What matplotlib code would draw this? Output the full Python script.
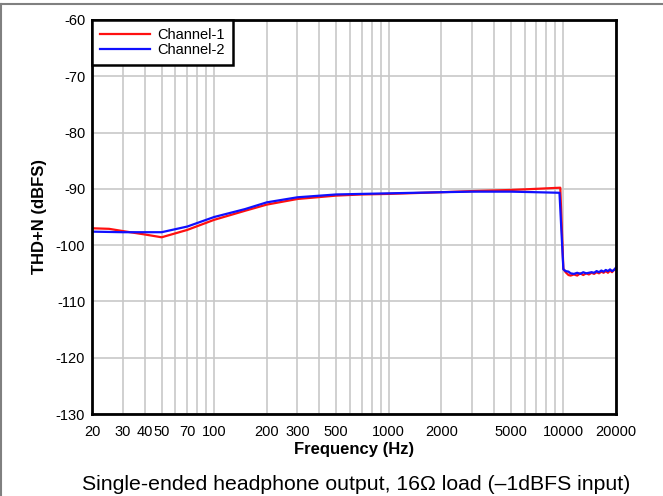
import matplotlib.pyplot as plt
from matplotlib.lines import Line2D
from matplotlib.ticker import FixedLocator, NullFormatter

plt.rcParams['font.family'] = ['Liberation Sans', 'DejaVu Sans']
plt.rcParams['axes.unicode_minus'] = False

# Channel-1 (red)
freq_ch1 = [20, 25, 30, 40, 50, 70, 100, 150, 200, 300, 500, 700, 1000, 2000, 3000, 5000, 7000, 9600,
            10000, 10300, 10700, 11000, 11500, 12000, 12500, 13000, 13500, 14000, 14500, 15000, 15500,
            16000, 16500, 17000, 17500, 18000, 18500, 19000, 19500, 20000]
thd_ch1 = [-97.0, -97.1, -97.5, -98.1, -98.6, -97.3, -95.5, -93.9, -92.8, -91.8, -91.2, -91.0, -90.9, -90.6, -90.4,
           -90.2, -90.0, -89.8,
           -104.2, -104.8, -105.3, -105.4, -105.2, -105.4, -105.0, -105.3, -105.0, -105.2, -104.9, -105.1, -104.8,
           -105.0, -104.7, -104.9, -104.6, -104.9, -104.5, -104.8, -104.4, -104.1]

# Channel-2 (blue)
freq_ch2 = [20, 30, 40, 50, 70, 100, 150, 200, 300, 500, 700, 1000, 2000, 3000, 5000, 7000, 9500,
            10000, 10300, 10700, 11000, 11500, 12000, 12500, 13000, 13500, 14000, 14500, 15000, 15500,
            16000, 16500, 17000, 17500, 18000, 18500, 19000, 19500, 20000]
thd_ch2 = [-97.6, -97.7, -97.7, -97.7, -96.7, -95.0, -93.6, -92.4, -91.5, -91.0, -90.9, -90.8, -90.6, -90.5,
           -90.5, -90.6, -90.7,
           -104.3, -104.6, -104.7, -105.0, -105.1, -104.9, -105.1, -104.8, -105.0, -104.9, -104.8, -104.9, -104.6,
           -104.8, -104.5, -104.7, -104.4, -104.6, -104.3, -104.6, -104.4, -104.0]

x_ticks = [20, 30, 40, 50, 70, 100, 200, 300, 500, 1000, 2000, 5000, 10000, 20000]
y_ticks = [-130, -120, -110, -100, -90, -80, -70, -60]

fig = plt.figure(figsize=(6.63, 4.96), dpi=100)
ax = fig.add_axes([0.139, 0.165, 0.790, 0.795])

ax.plot(freq_ch1, thd_ch1, color='#ff1010', lw=1.6, label='Channel-1', zorder=3)
ax.plot(freq_ch2, thd_ch2, color='#1010ff', lw=1.6, label='Channel-2', zorder=4)

ax.set_xscale('log')
ax.set_xlim(20, 20000)
ax.set_ylim(-130, -60)
ax.set_xticks(x_ticks)
ax.set_xticklabels([str(t) for t in x_ticks])
minor = [m * 10 ** e for e in range(1, 5) for m in range(1, 10) if 20 <= m * 10 ** e <= 20000]
ax.xaxis.set_minor_locator(FixedLocator(minor))
ax.xaxis.set_minor_formatter(NullFormatter())
ax.set_yticks(y_ticks)
ax.grid(True, which='both', color='#c8c8c8', lw=1.2, zorder=0)
ax.tick_params(which='both', length=0, labelsize=10.5)
ax.tick_params(axis='x', pad=8)
ax.tick_params(axis='y', pad=5)
for spine in ax.spines.values():
    spine.set_linewidth(2)
    spine.set_zorder(5)

ax.set_xlabel('Frequency (Hz)', fontsize=12, fontweight='bold', labelpad=2)
ax.set_ylabel('THD+N (dBFS)', fontsize=12, fontweight='bold', labelpad=6)

leg = ax.legend(loc='upper left', fontsize=10.5, fancybox=False, framealpha=1, edgecolor='black',
                borderaxespad=0, handlelength=3.4, handletextpad=0.5, borderpad=0.55, labelspacing=0.1)
leg.get_frame().set_linewidth(1.8)
leg.set_zorder(6)

fig.text(0.537, 0.024, 'Single-ended headphone output, 16\u03a9 load (\u20131dBFS input)', fontsize=15.3,
         ha='center', va='center')

# outer frame (top and left edges)
fig.add_artist(Line2D([0, 1], [0.992, 0.992], color='#808080', lw=1.5, transform=fig.transFigure))
fig.add_artist(Line2D([0.002, 0.002], [0, 0.992], color='#808080', lw=1.5, transform=fig.transFigure))

fig.savefig('out.png', dpi=100)
